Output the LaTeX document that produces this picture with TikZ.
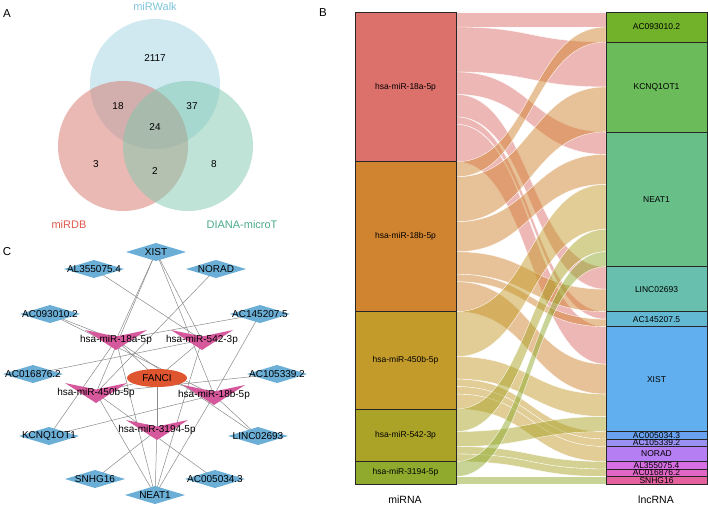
\documentclass[tikz,border=0pt]{standalone}
\usepackage{fontspec}
\setmainfont{Liberation Sans}
\usetikzlibrary{shapes.geometric}
\pgfdeclarelayer{bg}
\pgfsetlayers{bg,main}
\newcommand\myfs[1]{\fontsize{#1}{#1}\selectfont}
\def\su{7.4921}
% Venn colours
\definecolor{vwalk}{HTML}{A1D3E3}
\definecolor{vdb}{HTML}{D57369}
\definecolor{vdiana}{HTML}{7FC7AD}
\definecolor{twalk}{HTML}{7EC4DC}
\definecolor{tdb}{HTML}{E0574A}
\definecolor{tdiana}{HTML}{4AAB8A}
% Sankey colours
\definecolor{sA}{HTML}{DC706B}
\definecolor{sB}{HTML}{D08430}
\definecolor{sC}{HTML}{C39B2B}
\definecolor{sD}{HTML}{AAA328}
\definecolor{sE}{HTML}{8FAA2D}
\definecolor{r1}{HTML}{72B22A}
\definecolor{r2}{HTML}{6BBB5B}
\definecolor{r3}{HTML}{69BF88}
\definecolor{r4}{HTML}{68BFAE}
\definecolor{r5}{HTML}{63B8D2}
\definecolor{r6}{HTML}{62AFF0}
\definecolor{r7}{HTML}{6AA2F2}
\definecolor{r8}{HTML}{9A90F2}
\definecolor{r9}{HTML}{B57EF3}
\definecolor{r10}{HTML}{D86EE4}
\definecolor{r11}{HTML}{E266C6}
\definecolor{r12}{HTML}{E4619E}
% network colours
\definecolor{lncblue}{HTML}{6BAED6}
\definecolor{vpink}{HTML}{D6589C}
\definecolor{fanciorange}{HTML}{DF5530}
\definecolor{edgegray}{HTML}{8A8A8A}

\newcommand\sflow[4]{%
 \path[fill=#1, fill opacity=0.5, draw=white, line width=0.35pt]
  (456,{12+#2*\su}) .. controls (531,{12+#2*\su}) and (531,{12+#3*\su}) .. (606,{12+#3*\su})
  -- (606,{12+(#3+#4)*\su}) .. controls (531,{12+(#3+#4)*\su}) and (531,{12+(#2+#4)*\su}) .. (456,{12+(#2+#4)*\su}) -- cycle;}
\newcommand\skbox[6]{%
 \path[draw=black!85, line width=0.7pt, fill=#2] (#3,{12+#4*\su}) rectangle (#3+101,{12+(#4+#5)*\su});
 \node[sklab] (#1) at (#3+50.5,{12+(#4+#5/2)*\su}) {#6};}
\newcommand\vnode[4]{%
 \coordinate (#1) at (#2,#3);
 \path[fill=vpink, shift={(#2,#3)}] (-31,-10) -- (0,-3.5) -- (31,-10) -- (0,10) -- cycle;
 \node[netlab] (#1l) at (#2,#3) {#4};}

\begin{document}
\begin{tikzpicture}[x=1pt,y=-1pt,
  panel/.style={font=\myfs{11.5}, inner sep=0pt},
  num/.style={font=\myfs{10}, inner sep=0pt},
  vlab/.style={font=\myfs{11}, inner sep=0pt, anchor=base},
  sklab/.style={font=\myfs{8.5}, inner sep=0pt},
  axlab/.style={font=\myfs{10.5}, inner sep=0pt},
  netlab/.style={font=\myfs{10}, inner sep=0pt, text=black},
  lnc/.style={diamond, fill=lncblue, minimum width=60pt, minimum height=18pt, inner sep=0pt, outer sep=0pt},
  netedge/.style={draw=edgegray, line width=0.5pt}]
\useasboundingbox (0,0) rectangle (708,508);

% ---------- Panel A ----------
\node[panel] (pA) at (7,14) {A};
\fill[vwalk, fill opacity=0.5] (155,84) circle (65pt);
\fill[vdb, fill opacity=0.5] (123,146) circle (65pt);
\fill[vdiana, fill opacity=0.5] (188,146) circle (65pt);
\node[vlab, text=twalk] (tw) at (155,10.5) {miRWalk};
\node[vlab, text=tdb] (td) at (69,228) {miRDB};
\node[vlab, text=tdiana] (tdi) at (242,228) {DIANA-microT};
\node[num] (n1) at (155,58) {2117};
\node[num] (n2) at (118,106) {18};
\node[num] (n3) at (192,106) {37};
\node[num] (n4) at (155,127) {24};
\node[num] (n5) at (96,164) {3};
\node[num] (n6) at (155,171) {2};
\node[num] (n7) at (214,164) {8};

% ---------- Panel B ----------
\node[panel] (pB) at (323,13) {B};
% flows: colour, left start, right start, height (units)
\sflow{sA}{0}{0}{2}
\sflow{sA}{2}{4}{6}
\sflow{sA}{8}{16}{3}
\sflow{sA}{11}{34}{3}
\sflow{sA}{14}{40}{1}
\sflow{sA}{15}{42}{5}
\sflow{sB}{20}{2}{2}
\sflow{sB}{22}{10}{6}
\sflow{sB}{28}{19}{4}
\sflow{sB}{32}{37}{3}
\sflow{sB}{35}{41}{1}
\sflow{sB}{36}{47}{4}
\sflow{sC}{40}{23}{6}
\sflow{sC}{46}{51}{3}
\sflow{sC}{49}{56}{1}
\sflow{sC}{50}{57}{1}
\sflow{sC}{51}{58}{2}
\sflow{sD}{53}{29}{3}
\sflow{sD}{56}{54}{2}
\sflow{sD}{58}{60}{1}
\sflow{sD}{59}{61}{1}
\sflow{sE}{60}{32}{2}
\sflow{sE}{62}{62}{1}
% left strata
\skbox{L1}{sA}{355}{0}{20}{hsa-miR-18a-5p}
\skbox{L2}{sB}{355}{20}{20}{hsa-miR-18b-5p}
\skbox{L3}{sC}{355}{40}{13}{hsa-miR-450b-5p}
\skbox{L4}{sD}{355}{53}{7}{hsa-miR-542-3p}
\skbox{L5}{sE}{355}{60}{3}{hsa-miR-3194-5p}
% right strata
\skbox{R1}{r1}{606}{0}{4}{AC093010.2}
\skbox{R2}{r2}{606}{4}{12}{KCNQ1OT1}
\skbox{R3}{r3}{606}{16}{18}{NEAT1}
\skbox{R4}{r4}{606}{34}{6}{LINC02693}
\skbox{R5}{r5}{606}{40}{2}{AC145207.5}
\skbox{R6}{r6}{606}{42}{14}{XIST}
\skbox{R7}{r7}{606}{56}{1}{AC005034.3}
\skbox{R8}{r8}{606}{57}{1}{AC105339.2}
\skbox{R9}{r9}{606}{58}{2}{NORAD}
\skbox{R10}{r10}{606}{60}{1}{AL355075.4}
\skbox{R11}{r11}{606}{61}{1}{AC016876.2}
\skbox{R12}{r12}{606}{62}{1}{SNHG16}
\node[axlab] (axl) at (405,500) {miRNA};
\node[axlab] (axr) at (656,500) {lncRNA};

% ---------- Panel C ----------
\node[panel] (pC) at (7,252) {C};
\node[lnc, label={[netlab]center:XIST}] (xist) at (156,252) {};
\node[lnc, label={[netlab]center:AL355075.4}] (al355) at (94,269) {};
\node[lnc, label={[netlab]center:NORAD}] (norad) at (216,269) {};
\node[lnc, label={[netlab]center:AC093010.2}] (ac093) at (50,314) {};
\node[lnc, label={[netlab]center:AC145207.5}] (ac145) at (260,314) {};
\node[lnc, label={[netlab]center:AC016876.2}] (ac016) at (33,374) {};
\node[lnc, label={[netlab]center:AC105339.2}] (ac105) at (277,374) {};
\node[lnc, label={[netlab]center:KCNQ1OT1}] (kcnq) at (49,436) {};
\node[lnc, label={[netlab]center:LINC02693}] (linc) at (258,436) {};
\node[lnc, label={[netlab]center:SNHG16}] (snhg) at (95,479) {};
\node[lnc, label={[netlab]center:AC005034.3}] (ac005) at (215,479) {};
\node[lnc, label={[netlab]center:NEAT1}] (neat) at (155,495) {};
\node[ellipse, fill=fanciorange, minimum width=60pt, minimum height=18pt, inner sep=0pt, font=\myfs{10}] (fanci) at (157,378) {FANCI};
\vnode{m18a}{116}{340}{hsa-miR-18a-5p}
\vnode{m542}{202}{340}{hsa-miR-542-3p}
\vnode{m450}{96}{393}{hsa-miR-450b-5p}
\vnode{m18b}{214}{395}{hsa-miR-18b-5p}
\vnode{m3194}{157}{430}{hsa-miR-3194-5p}
\begin{pgfonlayer}{bg}
\foreach \a/\b in {m18a/xist, m18a/ac093, m18a/kcnq, m18a/linc, m18a/ac145, m18a/neat, m18a/fanci,
  m18b/xist, m18b/ac093, m18b/kcnq, m18b/linc, m18b/ac145, m18b/neat, m18b/fanci,
  m450/xist, m450/neat, m450/ac105, m450/norad, m450/ac005, m450/fanci,
  m542/xist, m542/neat, m542/al355, m542/ac016, m542/fanci,
  m3194/neat, m3194/snhg, m3194/fanci}
  \draw[netedge] (\a.center) -- (\b.center);
\end{pgfonlayer}
\end{tikzpicture}
\end{document}
